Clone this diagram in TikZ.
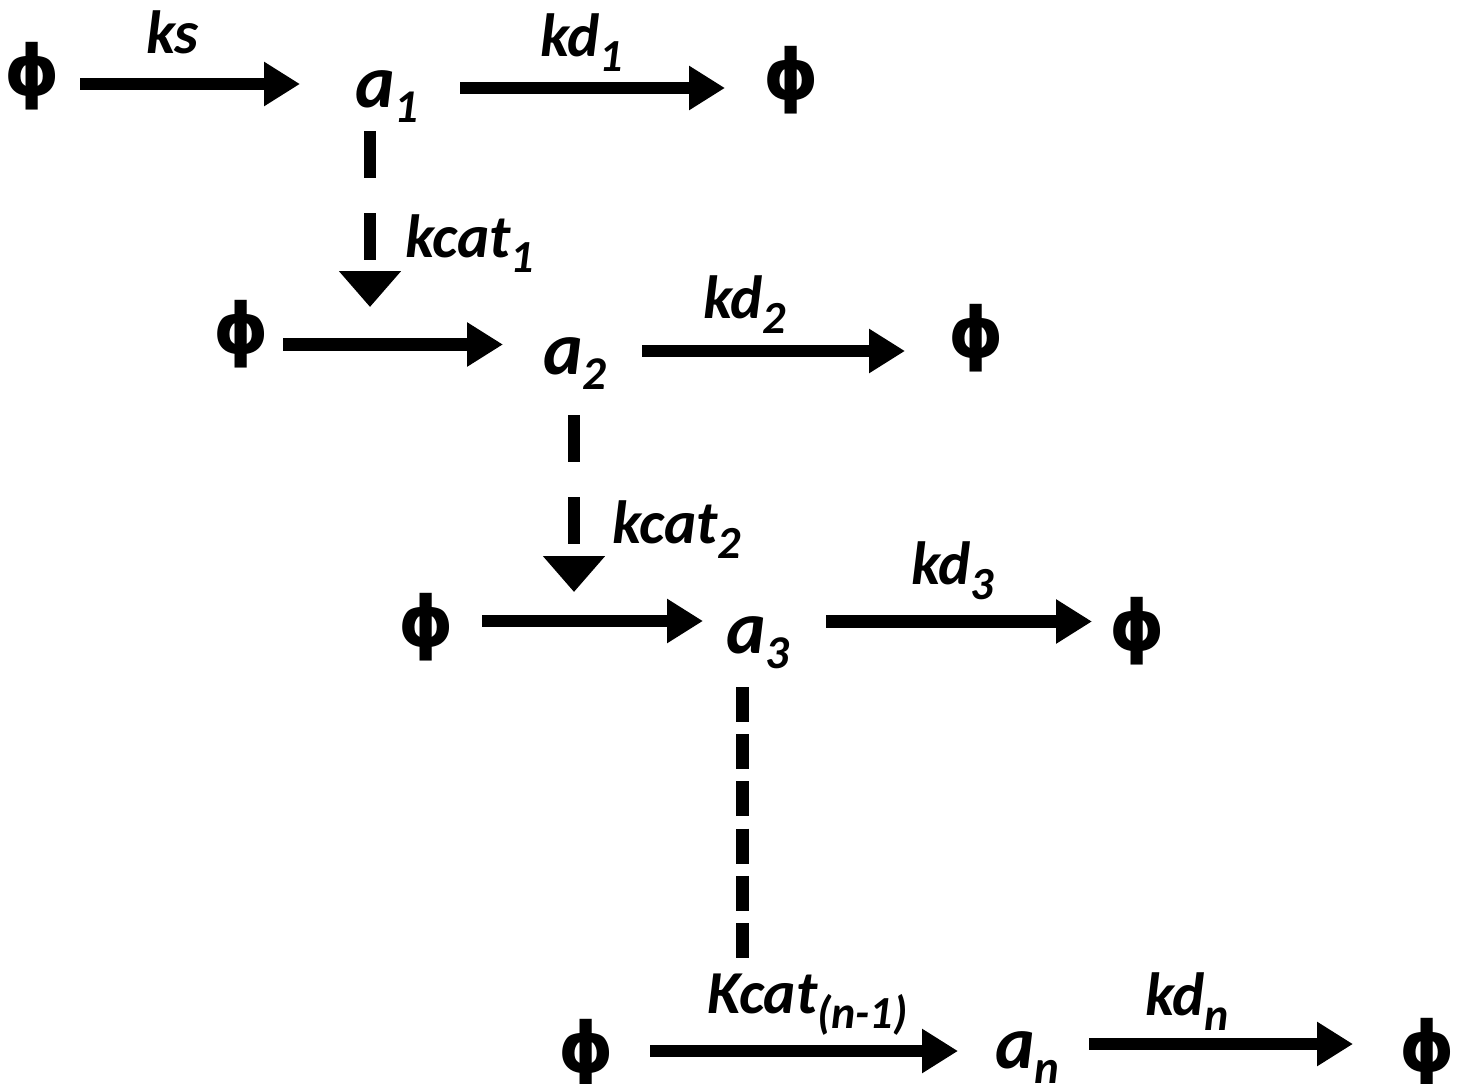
\documentclass[tikz,border=0pt]{standalone}
\usepackage{fontspec}
\setmainfont{Carlito}
\newfontfamily\phifont{DejaVu Sans}
\usetikzlibrary{arrows.meta}

% subscripts of species and rate constants
\newcommand\ssub[1]{\raisebox{-15pt}{\fontsize{47}{47}\selectfont #1}}
\newcommand\rsub[1]{\raisebox{-15pt}{\fontsize{46}{46}\selectfont #1}}

\begin{document}
\begin{tikzpicture}[x=1pt, y=-1pt,
  every node/.style={inner sep=0pt, outer sep=0pt},
  species/.style={anchor=base west, font=\fontsize{75}{75}\selectfont\bfseries\itshape},
  rate/.style={anchor=base west, font=\fontsize{61}{61}\selectfont\bfseries\itshape},
  sink/.style={anchor=base, font=\phifont\fontsize{70}{70}\selectfont\bfseries},
  rxn/.style={line width=12.5pt, -{Triangle[length=36pt, width=42pt]}},
  cat/.style={line width=12pt, dash pattern=on 47pt off 35pt,
              -{Triangle[length=36pt, width=60pt]}},
  link/.style={line width=13pt, dash pattern=on 35pt off 12.2pt}]

\useasboundingbox (0,0) rectangle (1459,1084);

% species
\node[species] (a1) at (355,107) {a\ssub{1}};
\node[species] (a2) at (543,374) {a\ssub{2}};
\node[species] (a3) at (726,653) {a\ssub{3}};
\node[species] (an) at (995,1068) {a\ssub{n}};

% sources and sinks
\node[sink] (p1) at (32,95) {ϕ};
\node[sink] (p2) at (791,99) {ϕ};
\node[sink] (p3) at (241,353) {ϕ};
\node[sink] (p4) at (976,357) {ϕ};
\node[sink] (p5) at (426,646) {ϕ};
\node[sink] (p6) at (1137,650) {ϕ};
\node[sink] (p7) at (586,1072) {ϕ};
\node[sink] (p8) at (1427,1071) {ϕ};

% heights of the reaction arrows
\coordinate (r1l) at (0,84);
\coordinate (r1r) at (0,88);
\coordinate (r2l) at (0,344.5);
\coordinate (r2r) at (0,351);
\coordinate (r3l) at (0,621);
\coordinate (r3r) at (0,621.5);
\coordinate (r4l) at (0,1051);
\coordinate (r4r) at (0,1044);

% synthesis and degradation
\draw[rxn, shorten <=48pt, shorten >=55pt] (p1.base |- r1l) -- (a1.base west |- r1l);
\draw[rxn, shorten <=42pt, shorten >=66pt] (a1.base east |- r1r) -- (p2.base |- r1r);
\draw[rxn, shorten <=42pt, shorten >=40pt] (p3.base |- r2l) -- (a2.base west |- r2l);
\draw[rxn, shorten <=36pt, shorten >=71pt] (a2.base east |- r2r) -- (p4.base |- r2r);
\draw[rxn, shorten <=56pt, shorten >=23pt] (p5.base |- r3l) -- (a3.base west |- r3l);
\draw[rxn, shorten <=37pt, shorten >=45pt] (a3.base east |- r3r) -- (p6.base |- r3r);
\draw[rxn, shorten <=64pt, shorten >=37pt] (p7.base |- r4l) -- (an.base west |- r4l);
\draw[rxn, shorten <=30pt, shorten >=74pt] (an.base east |- r4r) -- (p8.base |- r4r);

% catalytic links
\coordinate (c1) at (370,307);
\coordinate (c2) at (574,592);
\coordinate (c3) at (742,958);
\draw[cat] (a1.base -| c1) ++(0,24) -- (c1);
\draw[cat] (a2.base -| c2) ++(0,41) -- (c2);
\draw[link] (a3.base -| c3) ++(0,34) -- (c3);

% rate constants
\node[rate] (ks)  at (146,53)   {ks};
\node[rate] (kd1) at (540,56)   {kd\rsub{1}};
\node[rate] (kc1) at (405,257)  {kcat\rsub{1}};
\node[rate] (kd2) at (703,318)  {kd\rsub{2}};
\node[rate] (kc2) at (612,543)  {kcat\rsub{2}};
\node[rate] (kd3) at (911,584)  {kd\rsub{3}};
\node[rate] (kcn) at (707,1013) {Kcat\rsub{(n-1)}};
\node[rate] (kdn) at (1145,1015) {kd\rsub{n}};
\end{tikzpicture}
\end{document}
